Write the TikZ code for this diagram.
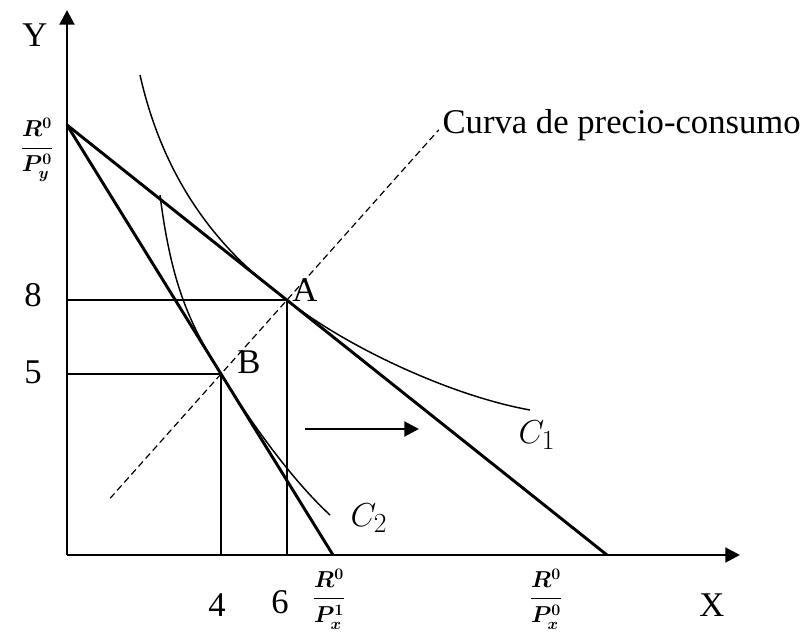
\documentclass[tikz,border=0pt]{standalone}
\usepackage{amsmath}
\usepackage{bm}
\usepackage{fontspec}
\setmainfont{Liberation Serif}
\usetikzlibrary{positioning,arrows.meta,calc}
\tikzset{
    axis line/.style={line width=2.2pt, -{Triangle[length=11pt,width=11pt]}},
    budget/.style={line width=2.2pt},
    indiff/.style={line width=1.1pt},
    guide/.style={line width=1.1pt},
    pcc/.style={line width=0.9pt, dash pattern=on 5pt off 3pt},
    tick label/.style={font=\fontsize{26}{30}\selectfont, inner sep=1pt},
    curve label/.style={font=\fontsize{28}{32}\selectfont, inner sep=1pt},
    frac label/.style={font=\fontsize{18.5}{22}\selectfont, inner sep=1pt}
}

\begin{document}
\begin{tikzpicture}[x=0.75pt, y=0.75pt]
    \useasboundingbox (-67,-77) rectangle (739,555);

    \coordinate (O) at (0,0);
    \coordinate (ytop) at (0,545);
    \coordinate (xend) at (673,0);
    \coordinate (Ry) at (0,430);
    \coordinate (Rx0) at (540,0);
    \coordinate (Rx1) at (266,0);
    \coordinate (A) at (220,255);
    \coordinate (B) at (154,181);
    \coordinate (c1start) at (73,480);
    \coordinate (c1end) at (463,145);
    \coordinate (c2start) at (93,360);
    \coordinate (c2end) at (263,40);
    \coordinate (shiftL) at (238,126);
    \coordinate (shiftR) at (352,126);

    % axes
    \draw[axis line] (O) -- (ytop);
    \draw[axis line] (O) -- (xend);

    % budget lines
    \draw[budget] (Ry) -- (Rx0);
    \draw[budget] (Ry) -- (Rx1);

    % guides to the axes
    \draw[guide] (A -| O) -- (A) -- (A |- O);
    \draw[guide] (B -| O) -- (B) -- (B |- O);

    % indifference curves
    \draw[indiff] (c1start) .. controls (100,360) and (165,295) .. (A)
        .. controls (275,211) and (380,160) .. (c1end);
    \draw[indiff] (c2start) .. controls (105,265) and (125,228) .. (B)
        .. controls (184,132) and (225,75) .. (c2end);

    % price-consumption curve
    \draw[pcc] ($(B)!-1.68!(A)$) -- ($(B)!3.3!(A)$);

    \draw[line width=2.2pt, -{Triangle[length=11pt,width=11pt]}] (shiftL) -- (shiftR);

    % labels
    \node[tick label] (lY) at (-32,520) {Y};
    \node[tick label] (lX) at (645,-50) {X};
    \node[frac label] (lRy) at (-30,405) {$\bm{\dfrac{R^0}{P_y^0}}$};
    \node[tick label] (l8) at (-34,260) {8};
    \node[tick label] (l5) at (-34,183) {5};
    \node[tick label] (l4) at (150,-50) {4};
    \node[tick label] (l6) at (213,-47) {6};
    \node[frac label] (lRx1) at (262,-44) {$\bm{\dfrac{R^0}{P_x^1}}$};
    \node[frac label] (lRx0) at (479,-44) {$\bm{\dfrac{R^0}{P_x^0}}$};
    \node[tick label] (lA) at (238,265) {A};
    \node[tick label] (lB) at (182,193) {B};
    \node[curve label] (lC1) at (470,120) {$C_1$};
    \node[curve label] (lC2) at (302,37) {$C_2$};
    \node[tick label, anchor=west] (lcurve) at (374,430) {Curva de precio-consumo};
\end{tikzpicture}
\end{document}
